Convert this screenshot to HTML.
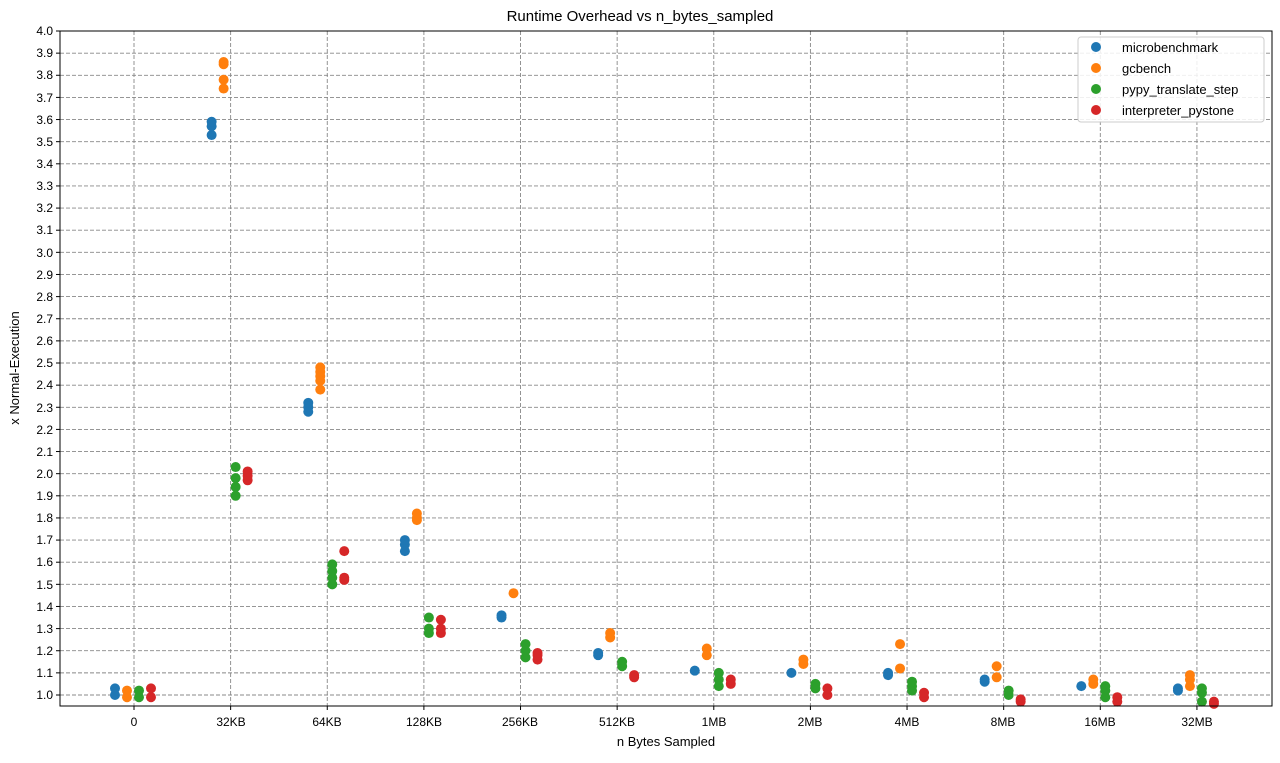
<!DOCTYPE html>
<html><head><meta charset="utf-8"><style>
body{margin:0;background:#fff;}
svg{font-family:"Liberation Sans","DejaVu Sans",sans-serif;}
</style></head><body>
<svg id="s" width="1280" height="758" xmlns="http://www.w3.org/2000/svg">
<rect width="1280" height="758" fill="#fff"/>
<g id="grid" stroke="#888" stroke-dasharray="4,2" stroke-width="0.9"></g>
<g id="pts"></g>
<rect x="60" y="31" width="1212" height="675" fill="none" stroke="#000" stroke-width="1"/>
<g id="ticks" stroke="#000"></g>
<text x="640" y="21" font-size="15" text-anchor="middle">Runtime Overhead vs n_bytes_sampled</text>
<text x="666" y="746" font-size="13" text-anchor="middle">n Bytes Sampled</text>
<text x="19" y="368" font-size="13" text-anchor="middle" transform="rotate(-90 19 368)">x Normal-Execution</text>
<g font-size="12" text-anchor="middle">
<text x="134" y="726">0</text><text x="231" y="726">32KB</text><text x="327" y="726">64KB</text><text x="424" y="726">128KB</text><text x="520" y="726">256KB</text><text x="617" y="726">512KB</text><text x="714" y="726">1MB</text><text x="810" y="726">2MB</text><text x="907" y="726">4MB</text><text x="1003" y="726">8MB</text><text x="1100" y="726">16MB</text><text x="1197" y="726">32MB</text>
</g>
<g font-size="12" text-anchor="end">
<text x="53" y="699">1.0</text><text x="53" y="677">1.1</text><text x="53" y="655">1.2</text><text x="53" y="633">1.3</text><text x="53" y="611">1.4</text><text x="53" y="589">1.5</text><text x="53" y="566">1.6</text><text x="53" y="544">1.7</text><text x="53" y="522">1.8</text><text x="53" y="500">1.9</text><text x="53" y="478">2.0</text><text x="53" y="456">2.1</text><text x="53" y="434">2.2</text><text x="53" y="412">2.3</text><text x="53" y="389">2.4</text><text x="53" y="367">2.5</text><text x="53" y="345">2.6</text><text x="53" y="323">2.7</text><text x="53" y="301">2.8</text><text x="53" y="279">2.9</text><text x="53" y="257">3.0</text><text x="53" y="234">3.1</text><text x="53" y="212">3.2</text><text x="53" y="190">3.3</text><text x="53" y="168">3.4</text><text x="53" y="146">3.5</text><text x="53" y="124">3.6</text><text x="53" y="102">3.7</text><text x="53" y="79">3.8</text><text x="53" y="57">3.9</text><text x="53" y="35">4.0</text>
</g>
<rect x="1078" y="37" width="186" height="85" rx="3" fill="#fff" fill-opacity="0.85" stroke="#ccc"/>
<circle cx="1096" cy="47" r="5" fill="#1f77b4"/><circle cx="1096" cy="68" r="5" fill="#ff7f0e"/><circle cx="1096" cy="89" r="5" fill="#2ca02c"/><circle cx="1096" cy="110" r="5" fill="#d62728"/>
<g font-size="13"><text x="1122" y="52">microbenchmark</text><text x="1122" y="73">gcbench</text><text x="1122" y="94">pypy_translate_step</text><text x="1122" y="115">interpreter_pystone</text></g>
</svg>
<script>
var NS="http://www.w3.org/2000/svg";
function Y(v){return 695-(v-1)*221.33;}
var g=document.getElementById('grid'),t=document.getElementById('ticks'),p=document.getElementById('pts');
function ln(par,x1,y1,x2,y2){var l=document.createElementNS(NS,'line');l.setAttribute('x1',x1);l.setAttribute('y1',y1);l.setAttribute('x2',x2);l.setAttribute('y2',y2);par.appendChild(l);}
for(var i=0;i<=30;i++){var y=Y(1+i/10);ln(g,60,y,1272,y);ln(t,56,y,60,y);}
for(var i=0;i<12;i++){var x=134+96.63*i;ln(g,x,31,x,706);ln(t,x,706,x,710);}
var C=['#1f77b4','#ff7f0e','#2ca02c','#d62728'],O=[-19,-7,5,17];
var D=[
[[1.0,1.03],[0.99,1.02],[0.99,1.02],[0.99,1.03]],
[[3.53,3.57,3.59],[3.74,3.78,3.85,3.86],[1.90,1.94,1.98,2.03],[1.97,1.99,2.01]],
[[2.28,2.30,2.32],[2.38,2.42,2.44,2.46,2.48],[1.50,1.53,1.56,1.59],[1.52,1.53,1.65]],
[[1.65,1.68,1.70],[1.79,1.80,1.82],[1.28,1.30,1.35],[1.28,1.30,1.34]],
[[1.35,1.36],[1.46],[1.17,1.20,1.23],[1.16,1.18,1.19]],
[[1.18,1.19],[1.26,1.28],[1.13,1.15],[1.08,1.09]],
[[1.11],[1.18,1.21],[1.04,1.07,1.10],[1.05,1.07]],
[[1.10],[1.14,1.16],[1.03,1.05],[1.00,1.03]],
[[1.09,1.10],[1.12,1.23],[1.02,1.04,1.06],[0.99,1.01]],
[[1.06,1.07],[1.08,1.13],[1.00,1.02],[0.97,0.98]],
[[1.04],[1.05,1.07],[0.99,1.02,1.04],[0.97,0.99]],
[[1.02,1.03],[1.04,1.07,1.09],[0.97,1.01,1.03],[0.96,0.97]]];
for(var i=0;i<12;i++)for(var s=0;s<4;s++)D[i][s].forEach(function(v){var c=document.createElementNS(NS,'circle');c.setAttribute('cx',134+96.63*i+O[s]);c.setAttribute('cy',Y(v));c.setAttribute('r',5);c.setAttribute('fill',C[s]);p.appendChild(c);});
</script>
</body></html>
